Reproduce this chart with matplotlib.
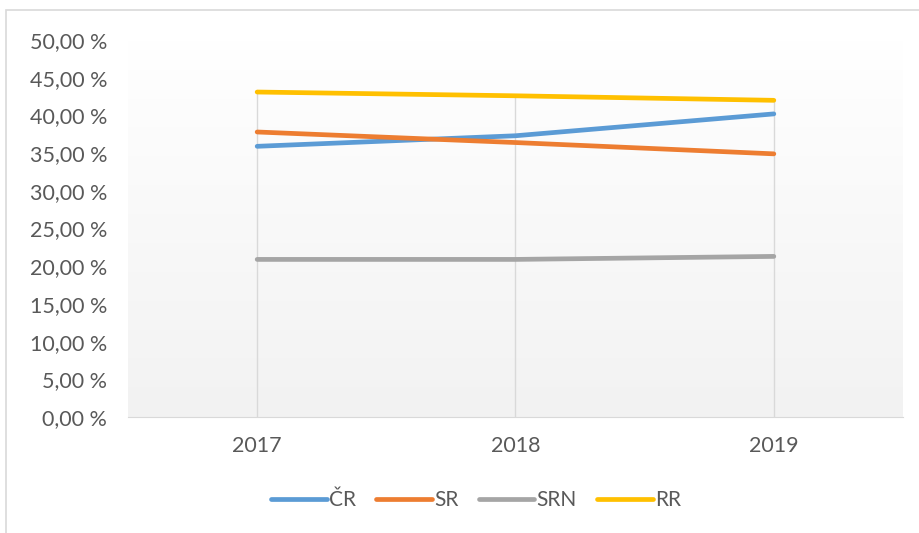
import numpy as np
import matplotlib.pyplot as plt
from matplotlib.patches import Rectangle

plt.rcParams['font.family'] = ['Lato', 'DejaVu Sans']

years = ['2017', '2018', '2019']
cr = [35.9, 37.3, 40.2]
sr = [37.8, 36.4, 34.9]
srn = [20.9, 20.9, 21.3]
rr = [43.1, 42.6, 42.0]

names = ['ČR', 'SR', 'SRN', 'RR']
colors = ['#5B9BD5', '#ED7D31', '#A5A5A5', '#FFC000']
txt = '#595959'

fig = plt.figure(figsize=(9.2, 5.33), dpi=100)
ax = fig.add_axes([128/920, 1 - 417/533, 775/920, 377/533])

# chart border
fig.patches.append(Rectangle((6/920, -0.05), 1.0, 1 - 10/533 + 0.05, transform=fig.transFigure,
                             fill=False, edgecolor='#d9d9d9', linewidth=1.2))

x = np.arange(len(years))
ax.set_xlim(-0.5, 2.5)
ax.set_ylim(0, 50)

# gradient plot area
grad = np.linspace(0, 1, 256).reshape(-1, 1)
ax.imshow(grad, cmap=plt.matplotlib.colors.LinearSegmentedColormap.from_list('g', ['#f2f2f2', '#ffffff']),
          extent=[-0.5, 2.5, 0, 50], aspect='auto', origin='lower', zorder=0)

# drop lines
tops = np.max([cr, sr, srn, rr], axis=0)
ax.vlines(x, 0, tops, color='#d9d9d9', linewidth=1, zorder=1)

for vals, n, c in zip([cr, sr, srn, rr], names, colors):
    ax.plot(x, vals, color=c, linewidth=3.4, label=n, solid_capstyle='round', zorder=3)

ax.set_xticks(x)
ax.set_xticklabels(years)
ax.set_yticks(np.arange(0, 51, 5))
ax.set_yticklabels([('%.2f %%' % v).replace('.', ',') for v in np.arange(0, 51, 5)])
ax.tick_params(length=0, labelsize=15.5, colors=txt)
ax.tick_params(axis='y', pad=15)
ax.tick_params(axis='x', pad=14)
for s in ['top', 'right', 'left']:
    ax.spines[s].set_visible(False)
ax.spines['bottom'].set_color('#d9d9d9')

fig.legend(loc='center', bbox_to_anchor=(476/920, 1 - 500/533), ncol=4, frameon=False,
           fontsize=15, labelcolor=txt, handlelength=2.65, handletextpad=0.1, columnspacing=1.0)

fig.savefig('out.png', dpi=100)
